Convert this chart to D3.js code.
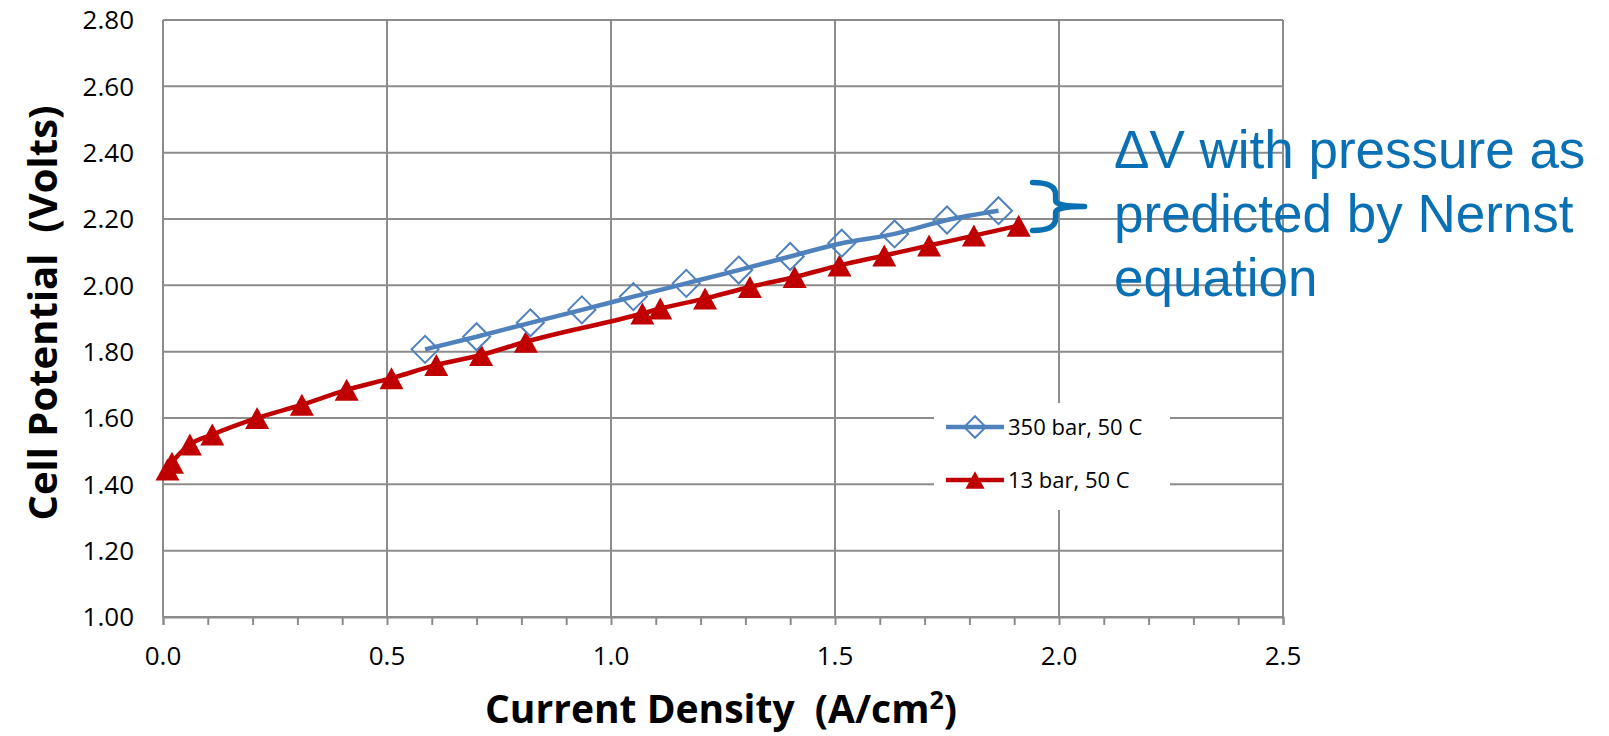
<!DOCTYPE html>
<html lang="en">
<head>
<meta charset="UTF-8">
<title>Cell Potential vs Current Density</title>
<script src="https://d3js.org/d3.v7.min.js"></script>
<style>
  body { margin: 0; background: #fff; }
  svg { display: block; }
  text { font-family: "Open Sans", "Noto Sans", sans-serif; fill: #000; }
  text.note { font-family: "Liberation Sans", Arial, sans-serif; }
</style>
</head>
<body>
<svg id="chart"></svg>
<script>
// 350 bar, 50 C
const hpCurrent = [0.585, 0.70, 0.82, 0.935, 1.05, 1.168, 1.285, 1.40, 1.515, 1.633, 1.75, 1.865];
const hpVolts   = [1.807, 1.845, 1.887, 1.926, 1.966, 2.006, 2.046, 2.087, 2.127, 2.155, 2.197, 2.225];
// 13 bar, 50 C
const lpCurrent = [0.01, 0.02, 0.06, 0.11, 0.21, 0.31, 0.41, 0.51, 0.61, 0.71, 0.81, 1.07, 1.11, 1.21, 1.31, 1.41, 1.51, 1.61, 1.71, 1.81, 1.91];
const lpVolts   = [1.445, 1.465, 1.52, 1.55, 1.60, 1.64, 1.685, 1.72, 1.76, 1.79, 1.83, 1.915, 1.93, 1.96, 1.995, 2.025, 2.06, 2.09, 2.12, 2.15, 2.18];

const seriesNames = ["350 bar, 50 C", "13 bar, 50 C"];
const xTickValues = [0, 0.5, 1.0, 1.5, 2.0, 2.5];
const yTickValues = [1.0, 1.2, 1.4, 1.6, 1.8, 2.0, 2.2, 2.4, 2.6, 2.8];
const noteLines = ["\u0394V with pressure as", "predicted by Nernst", "equation"];
// brace spans this voltage range, drawn just right of this current
const braceVolts = [2.165, 2.31];
const braceCurrent = 1.95;

const W = 1609, H = 736;
const gridColor = "#8c8c8c";
const blue = "#4f81bd", red = "#c00000", noteColor = "#0a70b4";

const svg = d3.select("#chart").attr("width", W).attr("height", H);

const x = d3.scaleLinear().domain([0, 2.5]).range([163, 1283]);
const y = d3.scaleLinear().domain([1.0, 2.8]).range([617, 20]);

// gridlines
svg.append("g").selectAll("line").data(yTickValues).enter().append("line")
    .attr("x1", x(0)).attr("x2", x(2.5))
    .attr("y1", d => y(d)).attr("y2", d => y(d))
    .attr("stroke", gridColor).attr("stroke-width", 2);
svg.append("g").selectAll("line").data(xTickValues).enter().append("line")
    .attr("x1", d => x(d)).attr("x2", d => x(d))
    .attr("y1", y(1.0)).attr("y2", y(2.8))
    .attr("stroke", gridColor).attr("stroke-width", 2);

// x ticks (minor every 0.1)
svg.append("g")
    .attr("transform", `translate(0,${y(1.0)})`)
    .call(d3.axisBottom(x).ticks(25).tickSize(8).tickFormat(""))
    .call(g => g.select(".domain").attr("stroke", gridColor).attr("stroke-width", 2))
    .call(g => g.selectAll(".tick line").attr("stroke", gridColor).attr("stroke-width", 2));

// tick labels
svg.append("g").selectAll("text").data(yTickValues).enter().append("text")
    .attr("x", 134).attr("y", d => y(d)).attr("dy", "0.36em")
    .attr("text-anchor", "end").attr("font-size", 26)
    .text(d => d.toFixed(2));
svg.append("g").selectAll("text").data(xTickValues).enter().append("text")
    .attr("x", d => x(d)).attr("y", 665)
    .attr("text-anchor", "middle").attr("font-size", 26)
    .text(d => d.toFixed(1));

// axis titles
svg.append("text")
    .attr("transform", "translate(57,313) rotate(-90)")
    .attr("text-anchor", "middle").attr("font-size", 40).attr("font-weight", "bold")
    .style("white-space", "pre")
    .text("Cell Potential  (Volts)");
const xt = svg.append("text")
    .attr("x", 721).attr("y", 723)
    .attr("text-anchor", "middle").attr("font-size", 39).attr("font-weight", "bold")
    .style("white-space", "pre");
xt.append("tspan").text("Current Density  (A/cm");
xt.append("tspan").attr("font-size", 25).attr("dy", -14).text("2");
xt.append("tspan").attr("dy", 14).text(")");

// series
const hpData = hpCurrent.map((c, i) => [c, hpVolts[i]]);
const lpData = lpCurrent.map((c, i) => [c, lpVolts[i]]);
const line = d3.line().x(d => x(d[0])).y(d => y(d[1])).curve(d3.curveMonotoneX);

const diamond = "M0,-13.5L13.5,0L0,13.5L-13.5,0Z";
const triangle = "M0,-11L12,11L-12,11Z";

svg.append("path").datum(lpData).attr("d", line)
    .attr("fill", "none").attr("stroke", red).attr("stroke-width", 4.5);
svg.append("g").selectAll("path").data(lpData).enter().append("path")
    .attr("transform", d => `translate(${x(d[0])},${y(d[1])})`)
    .attr("d", triangle).attr("fill", red);

svg.append("path").datum(hpData).attr("d", line)
    .attr("fill", "none").attr("stroke", blue).attr("stroke-width", 4.5);
svg.append("g").selectAll("path").data(hpData).enter().append("path")
    .attr("transform", d => `translate(${x(d[0])},${y(d[1])})`)
    .attr("d", diamond).attr("fill", "none").attr("stroke", blue).attr("stroke-width", 2);

// legend
const lg = svg.append("g").attr("transform", "translate(934,403)");
lg.append("rect").attr("width", 236).attr("height", 107).attr("fill", "#fff");
[[blue, diamond, "none"], [red, triangle, red]].forEach((s, i) => {
    const row = lg.append("g").attr("transform", `translate(0,${24 + i * 53})`);
    row.append("line").attr("x1", 12).attr("x2", 70)
        .attr("stroke", s[0]).attr("stroke-width", 4.5);
    row.append("path").attr("transform", "translate(41,0) scale(0.8)")
        .attr("d", s[1]).attr("fill", s[2] === "none" ? "none" : s[0])
        .attr("stroke", s[2] === "none" ? s[0] : "none").attr("stroke-width", 2.4);
    row.append("text").attr("x", 74).attr("y", 0).attr("dy", "0.36em")
        .attr("font-size", 22).text(seriesNames[i]);
});

// brace annotation
const bx0 = x(braceCurrent) - 4, bx1 = bx0 + 23, bx2 = bx0 + 52;
const by0 = y(braceVolts[1]), by1 = y(braceVolts[0]), bm = (by0 + by1) / 2;
svg.append("path")
    .attr("d", `M${bx0},${by0} Q${bx1},${by0} ${bx1},${by0 + 12} L${bx1},${bm - 6} Q${bx1},${bm} ${bx2},${bm}
                M${bx2},${bm} Q${bx1},${bm} ${bx1},${bm + 6} L${bx1},${by1 - 12} Q${bx1},${by1} ${bx0},${by1}`)
    .attr("fill", "none").attr("stroke", noteColor).attr("stroke-width", 5.5)
    .attr("stroke-linecap", "round");

svg.append("g").selectAll("text").data(noteLines).enter().append("text")
    .attr("class", "note")
    .attr("x", 1114).attr("y", (d, i) => 168 + i * 64)
    .attr("font-size", 53).style("fill", noteColor)
    .text(d => d);
</script>
</body>
</html>
